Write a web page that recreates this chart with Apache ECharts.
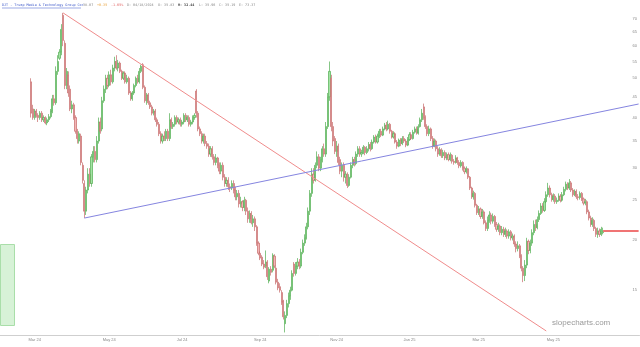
<!DOCTYPE html>
<html><head><meta charset="utf-8">
<script src="https://cdn.jsdelivr.net/npm/echarts@6/dist/echarts.min.js"></script>
<style>html,body{margin:0;padding:0;background:#fff}#c{width:640px;height:347px}</style>
</head><body><div id="c"></div>
<script>
// ---- trading calendar ----
const startDate = '2024-02-02';
const categoryCount = 360;
const holidays = ['2024-02-19','2024-03-29','2024-05-27','2024-06-19','2024-07-04','2024-09-02','2024-11-28','2024-12-25',
  '2025-01-01','2025-01-09','2025-01-20','2025-02-17','2025-04-18','2025-05-26','2025-06-19','2025-07-04'];
const firstCandleDate = '2024-02-28';

// ---- daily candles [open, close, low, high] ----
const candles = [
 [49,41,40,50],[42,40,39.5,43],[40,41.5,39.5,42],[41.5,40.5,40,42],[40.5,40,39,41],[40,41,39.5,41.5],[41,39.5,39,41.5],[39.5,40,39,40.5],[40,38.8,38.5,40.3],[38.8,39.5,38.3,40],
 [39.5,40.2,39,40.8],[40.2,41.5,39.8,42],[41.5,44.5,41,45.5],[44.5,43.5,42.8,45.5],[43.5,52,43,53.5],[52,55,51,57],[56,58,55.5,59],[58,66,57,68],[71.5,62,60,72.5],[61,48,47,62],
 [48,52,47,53],[51,46,45,52],[47,42,41.5,48],[42,43,41,44],[43,40,39.5,43.5],[40,37,36.5,40.5],[37,35.5,34.5,37.5],[35,36.5,34.5,37],[36,31,30.5,36.5],[30.5,28,27.5,31],
 [27.5,23.5,22.6,28],[23.5,26.5,23,27],[26.5,29,26,30],[29,27.5,27,30],[27.5,32,27,32.5],[32,33,31,34],[33,31.5,31,34],[31.5,35,31,36],[35,39,34.5,40],[39,37,36.5,40],
 [37.5,44,37,45],[44,47,43.5,48],[47,50,46,51],[50,48,47,51],[48,51,47.5,52],[51,49,48,52.5],[49,53,48.5,54],[53,55,52,56.5],[55,53,52.5,57],[53,54.5,52,55.5],
 [54.5,52,51.5,55],[52,50,49.5,52.5],[50,51.5,49.5,52],[51.5,49,48.5,52],[49,50,48.5,51],[50,46,45.5,50.5],[46,44.5,44,46.5],[44.5,46,44,46.5],[46,48,45.5,48.5],[48,50,47.5,50.5],
 [50,49,48.5,51],[49,52,48.5,53],[52,53.5,51.5,54],[54,47.5,47,54.5],[47.5,44,43.5,48],[44,45.5,43,46],[45.5,43.5,43,46],[43.5,42.5,42,44],[42.5,41,40.5,43],[41,41.5,40.5,42],
 [41.5,39.5,39,42],[39.5,38.5,38,40],[38.5,36.5,36,39],[36.5,35,34.5,37],[35,36,34.5,36.5],[36,35.5,35,37],[35.5,37,35,37.5],[37,35.5,35,37.5],[35.5,39.5,35,41],[39.5,38,37.5,40],
 [38,38.5,37.5,39],[38.5,40,38,40.5],[40,39,38.5,40.5],[39,39.5,38.5,40],[39.5,38.5,38,40],[38.5,39,38,39.5],[39,40.5,38.5,41],[40.5,39.5,39,41],[39.5,40,39,40.5],[40,38.5,38,40.5],
 [38.5,39,38,39.5],[39,40,38.5,40.5],[40,40.5,39.5,41],[46.5,41,40,47],[41,37.5,37,41.5],[37.5,36.5,36,38],[36.5,35,34.5,37],[35,36,34.5,36.5],[36,34.5,34,36.5],[34.5,34,33.5,35],
 [34,32.5,32,34.5],[32.5,33.5,32,34],[33.5,32,31.5,34],[32,31,30.5,32.5],[31,31.8,30.5,32.5],[31.8,30.5,30,32],[30.5,29.5,29,31],[29.5,30.5,29,31],[30.5,28.5,28,31],[28.5,27.5,27,29],
 [27.5,28,27,28.5],[28,27,26.5,28.5],[27,26.8,26.2,27.5],[26.8,27.5,26.5,28],[27.5,26.5,26,28],[26.5,25.5,25,27],[25.5,26,25,26.5],[26,24.5,24,26.5],[24.5,24.8,24,25.5],[24.8,24,23.5,25],
 [24,25,23.5,25.5],[25,23.5,23,25.2],[23.5,22.5,22,24],[22.5,23.2,22,23.6],[23.2,22,21.8,23.5],[22,22.5,21.5,23],[22.5,21.5,21,22.8],[21.5,19.6,19.3,21.7],[19.6,18.5,18.3,19.8],[18.5,18,17.8,18.7],
 [18.1,17.4,17.2,18.3],[17.4,17.1,16.9,17.8],[17.2,17.6,17,18.8],[17.6,16.2,15.9,17.8],[15.8,16.9,15.6,17.1],[16.9,16.6,16.3,17.2],[16.8,18.3,16.6,18.5],[18.2,17.2,17,18.4],[17,15.7,15.5,17.2],[15.7,15.2,15,16],
 [15.3,15,14.8,15.6],[14.8,14,13.8,15],[14.1,12.9,12.7,14.2],[12.4,13,11.8,13.3],[13,13.9,12.8,14.2],[13.9,14.5,13.6,14.8],[14.5,15,14.2,15.3],[15,16.5,14.9,16.8],[17.4,16.5,16.2,17.6],[16.5,17.2,16.3,17.6],
 [17.2,17.6,16.9,18],[17.6,17.2,16.9,17.9],[17.2,18.6,17,19],[18.6,19.6,18.4,20],[19.6,20.2,19.3,20.6],[20.2,21.5,20,22],[21.5,23.5,21.2,24],[23.5,26,23,26.5],[26,29,25.5,30],[29,28,27.5,30],
 [28,30.5,27.8,31],[30.5,32,30,33],[32,30,29.5,32.5],[30,31.5,29.5,32],[31.5,33.5,31,34],[33.5,32.5,32,34.5],[32.5,38,32,39],[38,45,37.5,46],[45,52,44,55],[50,38,37,51],
 [38,35,34,39],[35.5,33,32.5,36],[33,34,32,35],[34,31,30.5,34.5],[31.5,29.5,29,32],[29.5,30.5,28.5,31],[30.5,28.5,27.8,31],[28.5,29,27.5,29.5],[29,27.2,26.8,29.3],[27.2,28.5,27,29],
 [28.5,30.5,28.3,31],[30.5,31.5,30,32],[31.5,30.8,30.3,32],[30.8,32.5,30.5,33],[32.5,33.5,32,34],[33.5,32.5,32,34],[32.5,32.8,32,33.3],[32.8,33.8,32.5,34.2],[33.8,32.8,32.3,34],[32.8,33.5,32.5,34],
 [33.5,34.3,33,34.8],[34.3,33.5,33,34.8],[33.5,34.8,33.3,35.3],[34.8,35.8,34.5,36.2],[35.8,34.8,34.5,36.3],[34.8,36,34.5,36.5],[36,37,35.6,37.5],[37,36.2,35.8,37.5],[36.2,37.5,36,38],[37.5,38.3,37.2,38.8],
 [38.3,37.5,37,39],[37.5,38.5,37.2,39.3],[38.5,37,36.5,38.8],[37,35.8,35.5,37.3],[35.8,36.5,35.5,37],[36.5,34.8,34.5,36.8],[34.8,34,33.5,35.2],[34,35.2,33.8,35.5],[35.2,34.5,34,35.6],[34.5,35.5,34.2,36],
 [35.5,35,34.6,36],[35,34.2,33.8,35.4],[34.2,35.3,34,35.8],[35.3,36.3,35,36.8],[36.3,35.5,35.2,36.8],[35.5,36.8,35.3,37.3],[36.8,37.5,36.5,38],[37.5,36.6,36.3,38],[36.6,38,36.3,38.5],[38,39.5,37.8,40],
 [39.5,41,39,42],[42.5,40,39.5,43.3],[40,38,37.5,40.5],[38,36.5,36,38.5],[36.5,37.5,36,38.2],[37.5,35.5,35,37.8],[35.5,34,33.5,36],[34,35,33.8,35.5],[35,33.5,33,35.3],[33.5,32.5,32,34],
 [32.5,33.3,32.2,33.8],[33.3,32.2,31.8,33.6],[32.2,32.8,31.8,33.3],[32.8,31.8,31.4,33.2],[31.8,32.4,31.4,32.8],[32.4,31.5,31.2,32.8],[31.5,32.3,31.2,32.8],[32.3,31.2,30.8,32.5],[31.2,31,30.6,31.6],[31,31.8,30.8,32.3],
 [31.8,31,30.6,32],[31,30.4,30,31.4],[30.4,31,30.1,31.4],[31,30,29.6,31.2],[30,29.4,29,30.3],[29.4,29.9,29.1,30.3],[29.9,28.5,28.2,30],[28.5,26.8,26.5,28.7],[26.8,25.5,25.2,27],[25.5,26,25.1,26.4],
 [26,24.3,24,26.2],[24.3,23.3,23,24.5],[23.3,23.8,23,24.2],[23.8,22.8,22.5,24],[22.8,23.4,22.5,23.8],[23.4,22,21.8,23.6],[22,21.3,21,22.3],[21.3,22.3,21,22.8],[22.3,23,22,23.5],[23,22.2,21.8,23.3],
 [22.2,22.8,21.9,23.2],[22.8,21.8,21.5,23],[21.8,21.2,20.9,22.1],[21.2,21.6,20.9,22],[21.6,20.8,20.5,21.8],[20.8,21.2,20.5,21.6],[21.2,20.6,20.3,21.5],[20.6,21,20.3,21.4],[21,20.4,20.1,21.2],[20.4,20.9,20.1,21.2],
 [20.9,20.2,19.9,21.1],[20.2,20.4,19.9,20.7],[20.4,19.5,19.2,20.6],[19.5,19,18.6,19.8],[19,19.3,18.7,19.8],[19.3,18.2,18,19.5],[18.2,17,16.7,18.4],[17,16.3,15.7,17.2],[16.3,17.3,15.8,17.8],[17.3,19.8,17,20.2],
 [19.8,18.8,18.4,20],[18.8,19.6,18.5,20],[19.6,20.8,19.3,21.2],[20.8,21.8,20.5,22.3],[21.8,21.4,21,22.4],[21.4,22.4,21.2,22.8],[22.4,23.2,22.1,23.6],[23.2,24.2,23,24.6],[24.2,23.6,23.3,24.6],[23.6,24.8,23.4,25.3],
 [24.8,25.8,24.6,26.3],[25.8,26.8,25.5,27.6],[26.8,25.8,25.4,27.2],[25.8,25.1,24.8,26.1],[25.1,25.6,24.8,26],[25.6,24.8,24.5,25.9],[24.8,25,24.5,25.4],[25,25.6,24.8,26],[25.6,25,24.7,25.9],[25,25.8,24.8,26.2],
 [25.8,26.6,25.6,27],[26.6,27.4,26.3,27.8],[27.4,26.8,26.5,27.7],[26.8,27.6,26.5,28.2],[27.6,26.5,26.2,27.9],[26.5,25.8,25.5,26.8],[25.8,26.3,25.6,26.6],[26.3,25.5,25.2,26.6],[25.5,25.4,25,25.9],[25.4,26,25.1,26.3],
 [26,25.2,24.9,26.2],[25.2,24.6,24.3,25.4],[24.6,24.8,24.3,25.2],[24.8,23.4,23.1,25],[23.4,22.6,22.3,23.7],[22.6,21.8,21.5,22.9],[21.8,22.3,21.5,22.7],[22.3,21.3,21,22.5],[21.3,20.6,20.3,21.5],[20.6,21,20.2,21.4],
 [21,20.6,20.3,21.3],[20.6,21.2,20.4,21.5],[20.8,21,20.6,21.4]
];

// ---- axis ticks ----
const tickDates = ['2024-03-01','2024-05-01','2024-07-01','2024-09-03','2024-11-01','2025-01-02','2025-03-03','2025-05-01'];
const tickTexts = ['Mar 24','May 24','Jul 24','Sep 24','Nov 24','Jan 25','Mar 25','May 25'];
const priceTicks = [15,20,25,30,35,40,45,50,55,60,65,70];

// ---- drawn lines ----
const redTrend = [['2024-03-25',72.5],['2025-04-25',11.9]];
const blueTrend = [['2024-04-11',22.6],['2025-07-11',43.2]];
const lastPrice = 21.0;
const lastPriceLine = [['2025-06-11',lastPrice],['2025-07-11',lastPrice]];

// ---- header ----
const headerParts = [
  {t:'DJT - Trump Media & Technology Group Cor', c:'#3a56c8', x:2},
  {t:'38.07', c:'#888', x:83},
  {t:'+0.35', c:'#e9a23b', x:97},
  {t:'-1.65%', c:'#e06060', x:111},
  {t:'D: 04/18/2024', c:'#888', x:127},
  {t:'O: 35.83', c:'#888', x:158},
  {t:'H: 32.44', c:'#444', x:178, b:true},
  {t:'L: 35.96', c:'#888', x:199},
  {t:'C: 35.19', c:'#888', x:219},
  {t:'E: 73.37', c:'#888', x:239}
];

// build calendar
const categories = [];
{
  const d = new Date(startDate + 'T00:00:00Z');
  while (categories.length < categoryCount) {
    const s = d.toISOString().slice(0,10);
    const wd = d.getUTCDay();
    if (wd !== 0 && wd !== 6 && holidays.indexOf(s) < 0) categories.push(s);
    d.setUTCDate(d.getUTCDate() + 1);
  }
}
const firstIdx = categories.indexOf(firstCandleDate);
const candleData = categories.map((c, i) => {
  const k = i - firstIdx;
  return (k >= 0 && k < candles.length) ? candles[k] : '-';
});

const chart = echarts.init(document.getElementById('c'));
const graphics = [
  {type:'rect', shape:{x:0.5,y:244.5,width:14,height:81}, style:{fill:'#d7f2d7', stroke:'#a9dea9', lineWidth:1}, silent:true},
  {type:'text', style:{text:'slopecharts.com', x:552, y:323, fontSize:8, fontFamily:'Liberation Sans', fill:'#9a9a9a', verticalAlign:'middle'}, silent:true},
  {type:'line', shape:{x1:2, y1:8, x2:81, y2:8}, style:{stroke:'#3a56c8', lineWidth:0.5}, silent:true}
];
headerParts.forEach(p => graphics.push({type:'text', style:{text:p.t, x:p.x, y:5, fontSize:3.4,
  fontFamily:'DejaVu Sans Mono', fontWeight:p.b?'bold':'normal', fill:p.c, verticalAlign:'middle'}, silent:true}));

chart.setOption({
  animation:false,
  backgroundColor:'#fff',
  grid:{left:0, right:0, top:0, bottom:12},
  xAxis:{type:'category', data:categories, boundaryGap:true,
    axisLine:{lineStyle:{color:'#cfcfcf', width:1}}, axisTick:{show:false},
    axisLabel:{interval:(i, v) => tickDates.indexOf(v) >= 0, formatter:(v) => tickTexts[tickDates.indexOf(v)] || '',
      fontSize:4, color:'#888', margin:3, fontFamily:'Liberation Sans'},
    splitLine:{show:false}},
  yAxis:{type:'log', logBase:10, position:'right', min:11.63, max:78.0,
    axisLine:{show:false}, axisTick:{show:false}, splitLine:{show:false},
    axisLabel:{inside:true, customValues:priceTicks, fontSize:4, color:'#888', margin:2.5, fontFamily:'Liberation Sans'}},
  series:[
    {type:'candlestick', data:candleData, barWidth:1.6,
      itemStyle:{color:'#a3e3a3', color0:'#f3b5b5', borderColor:'#52ad52', borderColor0:'#c66a6a', borderWidth:0.7}},
    {type:'line', data:redTrend, symbol:'none', silent:true, lineStyle:{color:'#f08c8c', width:1}},
    {type:'line', data:blueTrend, symbol:'none', silent:true, lineStyle:{color:'#8585e0', width:1}},
    {type:'line', data:lastPriceLine, symbol:'none', silent:true, lineStyle:{color:'#f07474', width:2}}
  ],
  graphic:graphics
});
</script></body></html>
